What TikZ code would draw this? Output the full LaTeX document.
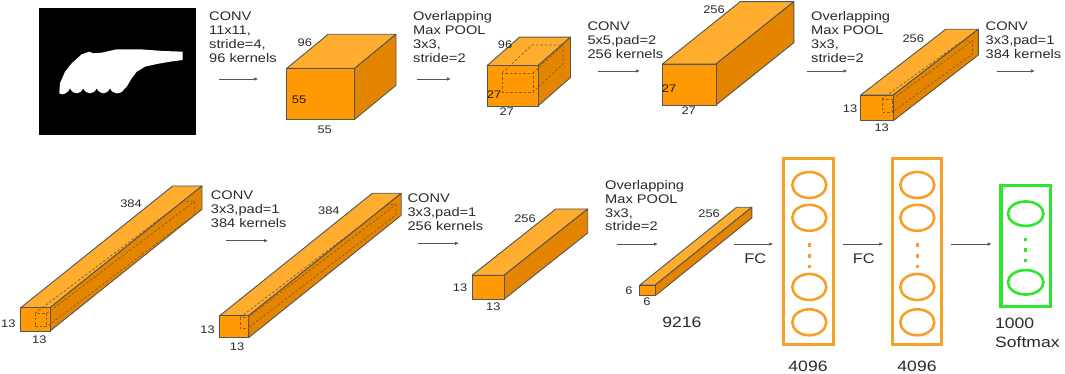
\documentclass[tikz,border=0pt]{standalone}
\usepackage{fontspec}
\setmainfont{Liberation Sans}[FakeStretch=1.17]
\usetikzlibrary{arrows.meta,calc,fit,positioning,shapes.geometric}
\definecolor{ink}{HTML}{2A2A2A}
\definecolor{edge}{HTML}{555555}
\definecolor{faceFront}{HTML}{FF9A05}
\definecolor{faceTop}{HTML}{FFAD2E}
\definecolor{faceSide}{HTML}{E38500}
\definecolor{kern}{HTML}{8C5A1E}
\definecolor{fcOrange}{HTML}{F5A028}
\definecolor{smGreen}{HTML}{2EE62E}
\tikzset{
  frontface/.style={draw=edge,fill=faceFront,line width=0.9pt,inner sep=0pt,outer sep=0pt},
  topface/.style={draw=edge,fill=faceTop,line width=0.9pt,line join=round},
  sideface/.style={draw=edge,fill=faceSide,line width=0.9pt,line join=round},
  kernel/.style={draw=kern,dash pattern=on 2.5pt off 2pt,line width=0.7pt},
  flow/.style={-{Latex[length=4pt,width=3.5pt]},line width=0.8pt,draw=edge},
  oplabel/.style={anchor=north west,align=left,inner sep=0pt,font=\fontsize{12.5}{13.9}\selectfont,text=ink},
  dimlabel/.style={inner sep=0pt,font=\fontsize{11}{12}\selectfont,text=ink},
  innerlabel/.style={dimlabel,text=black!85!faceFront},
  sizelabel/.style={inner sep=0pt,align=left,font=\fontsize{15}{18.4}\selectfont,text=ink},
  fclabel/.style={inner sep=0pt,font=\fontsize{14}{16}\selectfont,text=ink},
  fclayer/.style={draw=fcOrange,line width=3.2pt,inner sep=0pt},
  neuron/.style={ellipse,draw=fcOrange,line width=2.6pt,minimum width=34pt,minimum height=26pt,inner sep=0pt},
  smlayer/.style={fclayer,draw=smGreen},
  smneuron/.style={neuron,draw=smGreen,minimum width=35.5pt,minimum height=24.5pt},
  fcdot/.style={rectangle,fill=fcOrange,inner sep=0pt,minimum size=3.4pt},
  smdot/.style={fcdot,fill=smGreen}
}
% feature map: name, front x0, y0, x1, y1, depth dx, dy
\newcommand{\featmap}[7]{%
  \filldraw[topface] (#2,#3) -- ++(#6,#7) -- ($(#4,#3)+(#6,#7)$) -- (#4,#3) -- cycle;
  \filldraw[sideface] (#4,#3) -- ++(#6,#7) -- ($(#4,#5)+(#6,#7)$) -- (#4,#5) -- cycle;
  \node[frontface,fit={(#2,#3)(#4,#5)}] (#1) {};
}
% dashed kernel inside a map
\newcommand{\kernelbox}[6]{%
  \draw[kernel] (#1,#2) rectangle (#3,#4);
  \draw[kernel] (#1,#2) -- ++(#5,#6) -- ($(#3,#2)+(#5,#6)$) -- ($(#3,#4)+(#5,#6)$) -- (#3,#4);
  \draw[kernel] (#3,#2) -- ++(#5,#6);
}

\begin{document}
\begin{tikzpicture}[x=1pt,y=-1pt]
  \useasboundingbox (0,0) rectangle (1065,374);

  % input image
  \node[fill=black,inner sep=0pt,fit={(39,8)(196,135)}] (img) {};
  \fill[white] (59.3,93.3) -- (60,83.3) -- (65,71.7) -- (71.7,63.3) -- (81.7,54.3) -- (89.3,51.7)
    -- (93.3,53.3) -- (101.7,52.7) -- (116.7,49.3) -- (140,49.3) -- (163.3,51) -- (182.7,51.7)
    -- (182.7,60) -- (170,61.7) -- (156.7,64) -- (145,66.7) -- (136.7,71.7) -- (131.7,78.3)
    -- (126.7,86.7) -- (124.3,89)
    .. controls (121,95) and (113,95) .. (110,88.3)
    .. controls (107,95) and (99.7,95) .. (96.7,88.3)
    .. controls (93.7,95) and (86.3,95) .. (83.3,88.3)
    .. controls (80.3,95) and (73,95) .. (70,88.3)
    .. controls (67,95) and (61,95) .. (59.3,93.3) -- cycle;

  % feature maps
  \featmap{m1}{286.8}{68.3}{354.7}{119.3}{41.3}{-34}
  \featmap{m2}{487}{65.7}{538}{106}{32.5}{-28.5}
  \featmap{m3}{662.4}{64}{716}{105}{77.8}{-62.3}
  \featmap{m4}{860.7}{95}{893.3}{120.7}{85}{-65.7}
  \featmap{m5}{20.7}{307.7}{50}{331}{152}{-121.7}
  \featmap{m6}{219.7}{315.7}{248.6}{337.7}{152.6}{-122.4}
  \featmap{m7}{472}{275.3}{504}{299.3}{83.7}{-66.3}
  \featmap{m8}{639.9}{285}{655.2}{295.7}{96.6}{-77.7}

  \kernelbox{502}{73}{533}{92}{30}{-28}
  \kernelbox{882}{99}{892.5}{112}{80}{-58}
  \kernelbox{35}{313.3}{46.7}{326.7}{148}{-112}
  \kernelbox{240}{317.5}{248}{328}{148}{-113}

  % map sizes
  \node[dimlabel] (m1-d) at (304.8,42.3) {96};
  \node[innerlabel] (m1-h) at (299,99.3) {55};
  \node[dimlabel] (m1-w) at (324.7,129.3) {55};
  \node[dimlabel] (m2-d) at (505,45) {96};
  \node[innerlabel] (m2-h) at (494,95) {27};
  \node[dimlabel] (m2-w) at (506.7,111.7) {27};
  \node[dimlabel] (m3-d) at (714,10) {256};
  \node[innerlabel] (m3-h) at (669,88.3) {27};
  \node[dimlabel] (m3-w) at (688.7,111) {27};
  \node[dimlabel] (m4-d) at (913.3,39) {256};
  \node[dimlabel] (m4-h) at (850,108.3) {13};
  \node[dimlabel] (m4-w) at (881.7,127.3) {13};
  \node[dimlabel] (m5-d) at (131,204) {384};
  \node[dimlabel] (m5-h) at (8.3,323.3) {13};
  \node[dimlabel] (m5-w) at (39.3,340) {13};
  \node[dimlabel] (m6-d) at (328.9,211) {384};
  \node[dimlabel] (m6-h) at (207.6,330) {13};
  \node[dimlabel] (m6-w) at (237,346.7) {13};
  \node[dimlabel] (m7-d) at (525,218.3) {256};
  \node[dimlabel] (m7-h) at (460,287.3) {13};
  \node[dimlabel] (m7-w) at (493.3,306.7) {13};
  \node[dimlabel] (m8-d) at (709.1,213.3) {256};
  \node[dimlabel] (m8-h) at (629,290.7) {6};
  \node[dimlabel] (m8-w) at (647,301.7) {6};
  \node[sizelabel] (m8-n) at (681.8,322.8) {9216};

  % arrows between stages
  \foreach \n/\xs/\xe/\yy in {1/218.7/258.3/79, 2/417/451/79, 3/598/640/71, 4/806.5/847.5/71,
      5/996.7/1035/71, 6/225.5/268/240.7, 7/417.7/459/243.3, 8/617/658/244,
      9/734/773.3/244, 10/842.7/883.3/244, 11/950.7/991.7/244} {
    \coordinate (a\n s) at (\xs,\yy);
    \coordinate (a\n e) at (\xe,\yy);
    \draw[flow] (a\n s) -- (a\n e);
  }

  % operation labels
  \node[oplabel] (op1) at (209,11.7) {CONV\\11x11,\\stride=4,\\96 kernels};
  \node[oplabel] (op2) at (413,11.7) {Overlapping\\Max POOL\\3x3,\\stride=2};
  \node[oplabel] (op3) at (587.3,21.7) {CONV\\5x5,pad=2\\256 kernels};
  \node[oplabel] (op4) at (811,11.7) {Overlapping\\Max POOL\\3x3,\\stride=2};
  \node[oplabel] (op5) at (985.5,21.7) {CONV\\3x3,pad=1\\384 kernels};
  \node[oplabel] (op6) at (210.7,190.7) {CONV\\3x3,pad=1\\384 kernels};
  \node[oplabel] (op7) at (407.4,194) {CONV\\3x3,pad=1\\256 kernels};
  \node[oplabel] (op8) at (605,180) {Overlapping\\Max POOL\\3x3,\\stride=2};
  \node[fclabel] (fcl1) at (755.3,258.7) {FC};
  \node[fclabel] (fcl2) at (863.8,258.7) {FC};

  % fully connected layers
  \node[fclayer,fit={(783.3,158.3)(833.4,344.4)}] (fc1) {};
  \node[fclayer,fit={(892.3,158.3)(941.7,344.4)}] (fc2) {};
  \foreach \yy [count=\i] in {185,217.8,287,322.3} {
    \node[neuron] (fc1-n\i) at (809.3,\yy) {};
    \node[neuron] (fc2-n\i) at (917.3,\yy) {};
  }
  \foreach \yy [count=\i] in {245,256,266.7} {
    \node[fcdot] (fc1-d\i) at (809.3,\yy) {};
    \node[fcdot] (fc2-d\i) at (917.3,\yy) {};
  }
  \node[sizelabel] (fc1-n) at (808,366) {4096};
  \node[sizelabel] (fc2-n) at (917,366) {4096};

  % softmax
  \node[smlayer,fit={(1000.9,185.9)(1050.7,306.7)}] (sm) {};
  \node[smneuron] (sm-n1) at (1025.7,213.7) {};
  \node[smneuron] (sm-n2) at (1025.7,282.3) {};
  \foreach \yy [count=\i] in {239.3,250,260.7}
    \node[smdot] (sm-d\i) at (1025.7,\yy) {};
  \node[sizelabel,anchor=north west] (sm-n) at (995,318.3) {1000\\Softmax};
\end{tikzpicture}
\end{document}
